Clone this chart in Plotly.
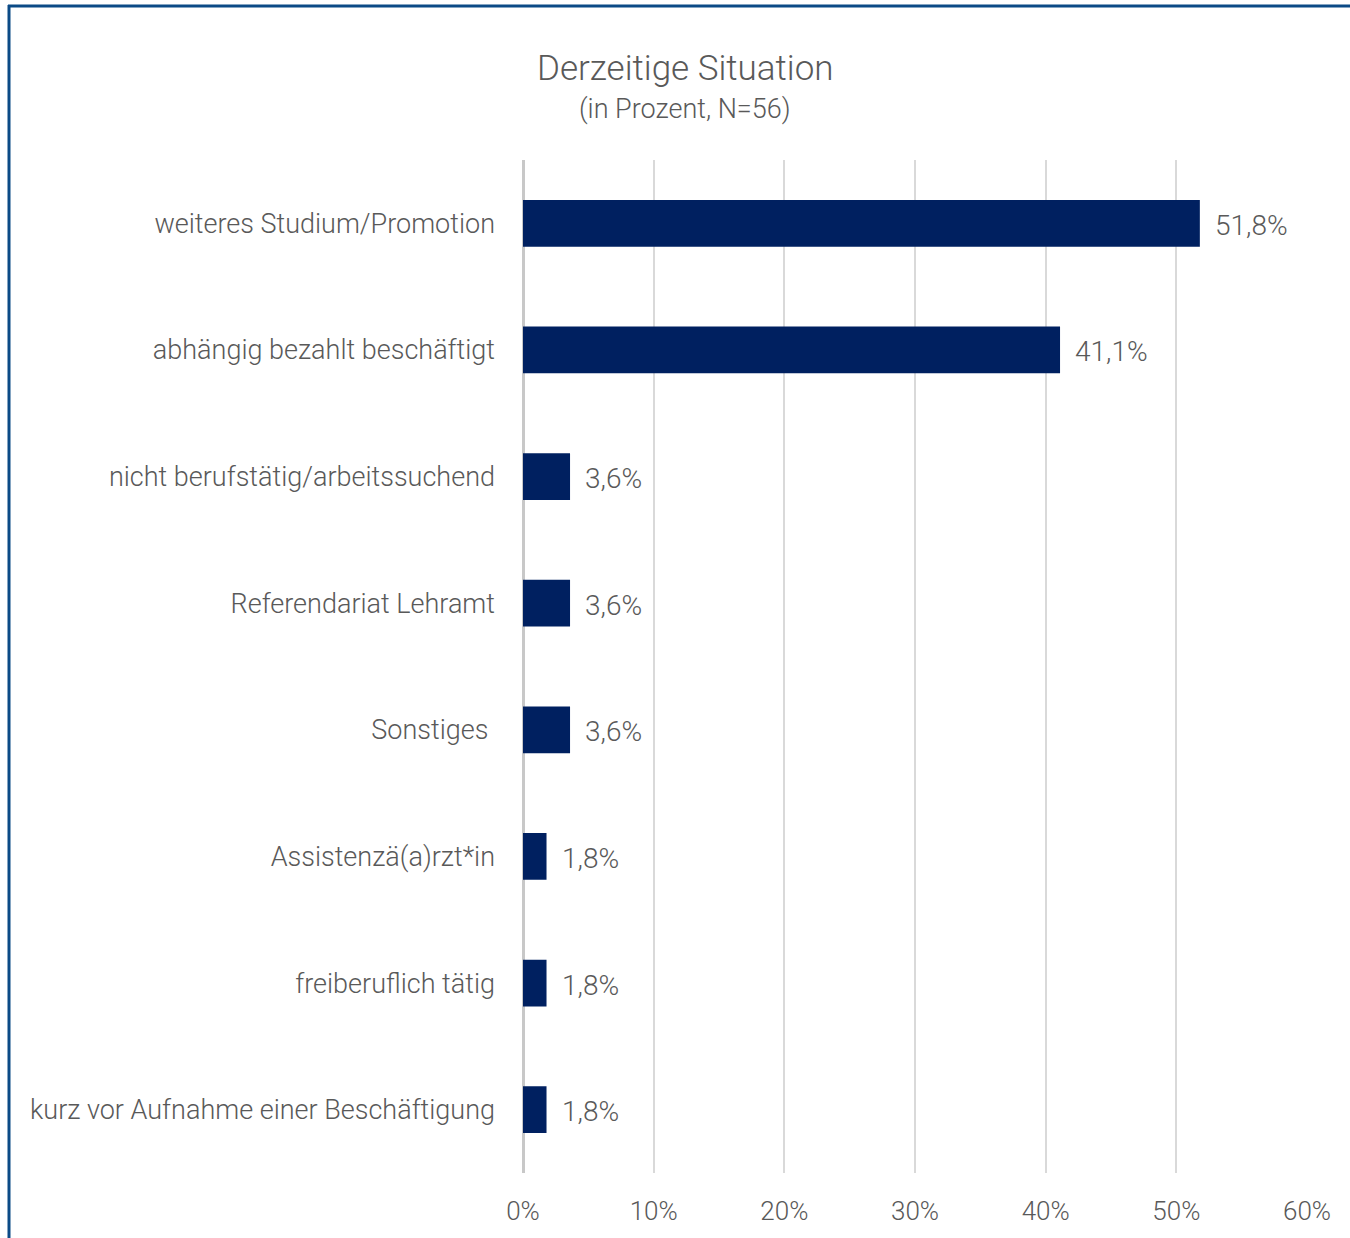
import plotly.graph_objects as go

categories = [
    "weiteres Studium/Promotion",
    "abhängig bezahlt beschäftigt",
    "nicht berufstätig/arbeitssuchend",
    "Referendariat Lehramt",
    "Sonstiges\u00a0",
    "Assistenzä(a)rzt*in",
    "freiberuflich tätig",
    "kurz vor Aufnahme einer Beschäftigung",
]
values = [51.8, 41.1, 3.6, 3.6, 3.6, 1.8, 1.8, 1.8]
tick_vals = [0, 10, 20, 30, 40, 50, 60]
tick_text = ["0%", "10%", "20%", "30%", "40%", "50%", "60%"]
title = "Derzeitige Situation"
subtitle = "(in Prozent, N=56)"

W, H = 1350, 1238
L, R, T, B = 523, 43, 160, 65
FONT = "Roboto"
WEIGHT = 300
TXT = "#595959"
BAR = "#002060"

fig = go.Figure()
fig.add_trace(go.Bar(
    y=categories, x=values, orientation="h",
    marker=dict(color=BAR, line=dict(width=0)),
    width=0.37, hoverinfo="skip",
))

for c, v in zip(categories, values):
    fig.add_annotation(
        x=v, y=c, xref="x", yref="y",
        text=f"{v:.1f}%".replace(".", ","),
        showarrow=False, xanchor="left", xshift=13, yshift=-2,
        font=dict(family=FONT, size=28, color=TXT, weight=WEIGHT),
    )

pw = W - L - R
ph = H - T - B
def px(x):
    return (x - L) / pw
def py(y):
    return (H - B - y) / ph

fig.add_annotation(x=px(685), y=py(68), xref="paper", yref="paper", text=title,
                   showarrow=False, xanchor="center", yanchor="middle",
                   font=dict(family=FONT, size=35, color=TXT, weight=WEIGHT))
fig.add_annotation(x=px(685), y=py(109), xref="paper", yref="paper", text=subtitle,
                   showarrow=False, xanchor="center", yanchor="middle",
                   font=dict(family=FONT, size=27, color=TXT, weight=WEIGHT))

# outer frame (left and top edges)
fig.add_shape(type="line", xref="paper", yref="paper",
              x0=px(9), x1=px(9), y0=py(5), y1=py(1240),
              line=dict(color="#0b4a86", width=3))
fig.add_shape(type="line", xref="paper", yref="paper",
              x0=px(8), x1=px(1352), y0=py(6), y1=py(6),
              line=dict(color="#0b4a86", width=3))

fig.update_layout(
    width=W, height=H,
    margin=dict(l=L, r=R, t=T, b=B),
    paper_bgcolor="white", plot_bgcolor="white",
    showlegend=False,
    font=dict(family=FONT, color=TXT, weight=WEIGHT),
    xaxis=dict(
        range=[0, 60], tickvals=tick_vals, ticktext=tick_text,
        showgrid=True, gridcolor="#d9d9d9", gridwidth=2,
        zeroline=True, zerolinecolor="#c8c8c8", zerolinewidth=3,
        showline=False, ticks="",
        tickfont=dict(family=FONT, size=26, color=TXT, weight=WEIGHT),
        ticklabelstandoff=20,
        fixedrange=True,
    ),
    yaxis=dict(
        autorange="reversed",
        showgrid=False, zeroline=False, showline=False, ticks="",
        tickfont=dict(family=FONT, size=27, color=TXT, weight=WEIGHT),
        ticklabelstandoff=27,
        fixedrange=True,
    ),
)

fig.write_html("out.html")
